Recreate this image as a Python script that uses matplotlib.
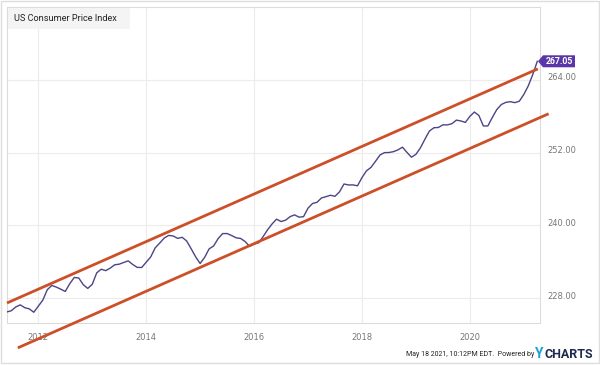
import numpy as np
import matplotlib.pyplot as plt
from matplotlib.patches import Rectangle, Polygon
from matplotlib.transforms import blended_transform_factory, ScaledTranslation

# US CPI-U (monthly, May 2011 .. Apr 2021)
start_year = 2011
start_month = 5
cpi = [225.96, 225.72, 225.92, 226.55, 226.89, 226.42, 226.23, 225.67,
       226.67, 227.66, 229.39, 230.09, 229.82, 229.48, 229.10, 230.38, 231.41, 231.32, 230.22, 229.60,
       230.28, 232.17, 232.77, 232.53, 232.95, 233.50, 233.60, 233.88, 234.15, 233.55, 233.07, 233.05,
       233.92, 234.78, 236.29, 237.07, 237.90, 238.34, 238.25, 237.85, 238.03, 237.43, 236.15, 234.81,
       233.71, 234.72, 236.12, 236.60, 237.81, 238.64, 238.65, 238.32, 237.95, 237.84, 237.34, 236.53,
       236.92, 237.11, 238.13, 239.26, 240.23, 241.02, 240.63, 240.85, 241.43, 241.73, 241.35, 241.43,
       242.84, 243.60, 243.80, 244.52, 244.73, 244.96, 244.79, 245.52, 246.82, 246.66, 246.67, 246.52,
       247.87, 248.99, 249.55, 250.55, 251.59, 251.99, 252.01, 252.15, 252.44, 252.89, 252.04, 251.23,
       251.71, 252.78, 254.20, 255.55, 256.09, 256.14, 256.57, 256.56, 256.76, 257.35, 257.21, 256.97,
       257.97, 258.68, 258.12, 256.39, 256.39, 257.80, 259.10, 259.92, 260.28, 260.39, 260.23, 260.47,
       261.58, 263.01, 264.88, 267.05]

# channel lines (decimal year, value)
upper_x = [2011.42, 2021.26]
upper_y = [227.2, 265.8]
lower_x = [2011.62, 2021.46]
lower_y = [219.8, 258.4]

yticks = [228, 240, 252, 264]
xticks = [2012, 2014, 2016, 2018, 2020]

t = start_year + (start_month - 1) / 12 + np.arange(len(cpi)) / 12

W, H = 600, 365
fig = plt.figure(figsize=(W / 100, H / 100), dpi=100)
ax = fig.add_axes([7 / W, 42 / H, 533 / W, 316 / H])

def px(x, y):
    # pixel (from top-left) -> figure fraction
    return x / W, 1 - y / H

# outer frame
fig.patches.append(Rectangle((1 / W, 2 / H), 598 / W, 362 / H, transform=fig.transFigure,
                             fill=False, edgecolor='#dddddd', lw=1))

for y in yticks:
    ax.axhline(y, color='#ececec', lw=0.8, zorder=0)
for x in xticks:
    ax.axvline(x, color='#ececec', lw=0.8, zorder=0)

ax.plot(t, cpi, color='#4b4585', lw=1.0, zorder=3)
ax.plot(upper_x, upper_y, color='#cc4f28', lw=2.0, clip_on=False, zorder=4, solid_capstyle='butt')
ax.plot(lower_x, lower_y, color='#cc4f28', lw=2.0, clip_on=False, zorder=4, solid_capstyle='butt')

ax.set_xlim(2011.42, 2021.3)
ax.set_ylim(223.9, 276.0)
ax.set_xticks(xticks)
ax.set_xticklabels([str(x) for x in xticks])
ax.yaxis.tick_right()
ax.set_yticks(yticks)
ax.set_yticklabels(['%.2f' % y for y in yticks])
ax.tick_params(axis='y', length=0, labelsize=6, colors='#777777', pad=5)
ax.tick_params(axis='x', length=0, labelsize=6, colors='#777777', pad=7)
up = ScaledTranslation(0, 3 / 100, fig.dpi_scale_trans)
for lab in ax.get_yticklabels():
    lab.set_transform(lab.get_transform() + up)
for s in ax.spines.values():
    s.set_color('#dcdcdc')
    s.set_linewidth(0.8)

# title box
fig.patches.append(Rectangle(px(8, 29), 122 / W, 21 / H, transform=fig.transFigure,
                             fc='#f4f4f4', ec='none', zorder=5))
fig.text(*px(14, 18.5), 'US Consumer Price Index', ha='left', va='center',
         fontsize=6.6, color='#222222', family='Roboto', zorder=6)

# last value tag
last = cpi[-1]
tr = blended_transform_factory(fig.transFigure, ax.transData)
hh = 6 / 6.06
tag = Polygon([(538 / W, last), (543 / W, last + hh), (575 / W, last + hh),
               (575 / W, last - hh), (543 / W, last - hh)], closed=True,
              transform=tr, fc='#5b36a8', ec='none', clip_on=False, zorder=6)
fig.patches.append(tag)
fig.text(559 / W, last, '%.2f' % last, transform=tr, ha='center', va='center',
         fontsize=6.3, color='white', fontweight='bold', family='Roboto', zorder=7)

# footer, laid out right to left
fig.canvas.draw()
r = fig.canvas.get_renderer()
yf = 1 - 354 / H
t3 = fig.text(593 / W, yf, 'CHARTS', ha='right', va='center', fontsize=9,
              color='#1d2b4f', fontweight='bold', family='Roboto')
x3 = t3.get_window_extent(r).x0
t2 = fig.text((x3 - 1) / W, yf, 'Y', ha='right', va='center', fontsize=10,
              color='#1aa1d6', fontweight='bold', family='Roboto')
x2 = t2.get_window_extent(r).x0
fig.text((x2 - 1) / W, yf - 0.002, 'May 18 2021, 10:12PM EDT.  Powered by', ha='right', va='center',
         fontsize=5.0, color='#222222', family='Roboto')

fig.savefig('out.png', dpi=100)
